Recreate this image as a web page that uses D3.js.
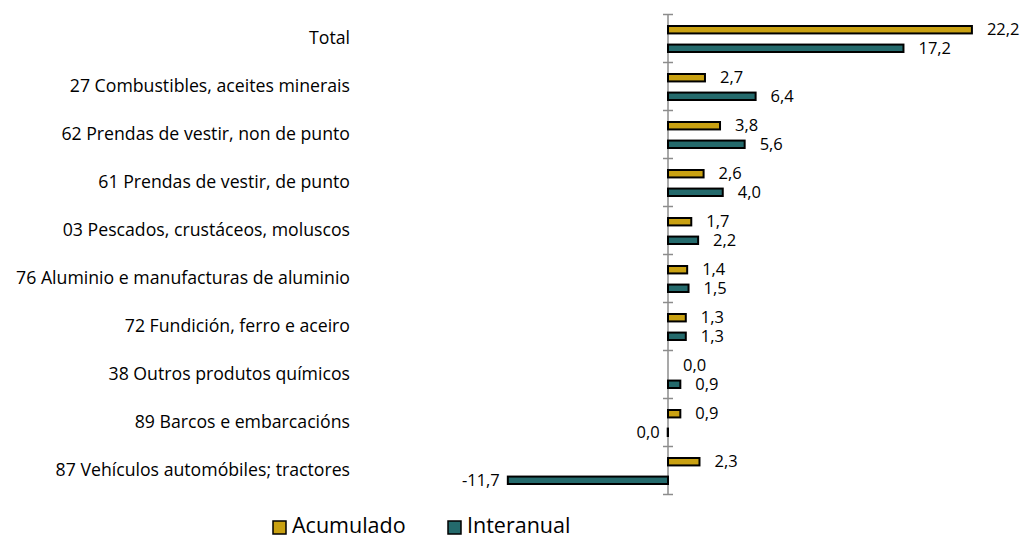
<html>
<head>
  <script src="https://unpkg.com/d3@7/dist/d3.min.js"></script>
  <style>
    body { margin: 0; background: #fff; }
    text { font-family: "Open Sans", sans-serif; fill: #000; }
  </style>
</head>
<body>
  <svg id="container" width="1025" height="540"></svg>
<script>
    const categories = [
      'Total',
      '27 Combustibles, aceites minerais',
      '62 Prendas de vestir, non de punto',
      '61 Prendas de vestir, de punto',
      '03 Pescados, crustáceos, moluscos',
      '76 Aluminio e manufacturas de aluminio',
      '72 Fundición, ferro e aceiro',
      '38 Outros produtos químicos',
      '89 Barcos e embarcacións',
      '87 Vehículos automóbiles; tractores'
    ]
    const acumulado = [22.2, 2.7, 3.8, 2.6, 1.7, 1.4, 1.3, 0.0, 0.9, 2.3]
    const interanual = [17.2, 6.4, 5.6, 4.0, 2.2, 1.5, 1.3, 0.9, -0.02, -11.7]
    const seriesNames = ['Acumulado', 'Interanual']
    const colors = ['#C9A112', '#246A6C']

    const svg = d3.select('#container');

    const plotTop = 14, plotBottom = 494;

    const xScale = d3.scaleLinear()
      .domain([-12, 23])
      .range([668 - 12 * 13.69, 668 + 23 * 13.69]);

    const yScale = d3.scaleBand()
      .domain(categories)
      .range([plotTop, plotBottom]);

    const inner = d3.scaleBand()
      .domain(seriesNames)
      .range([12, 38])
      .paddingInner(0.6);

    const fmt = d3.formatLocale({decimal: ',', thousands: '.', grouping: [3], currency: ['', '€'], minus: '-'}).format('.1f');

    // axis at zero with cross ticks at category boundaries
    const yLin = d3.scaleLinear().domain([0, categories.length]).range([plotTop, plotBottom]);
    const axis = svg.append('g')
      .attr('transform', `translate(${xScale(0)},0)`)
      .call(d3.axisLeft(yLin).ticks(categories.length).tickFormat(''));
    axis.select('.domain').attr('stroke', '#8c8c8c').attr('stroke-width', 1.5)
      .attr('d', `M0,${plotTop}V${plotBottom}`);
    axis.selectAll('.tick line').attr('stroke', '#8c8c8c').attr('stroke-width', 1.5)
      .attr('x1', -5).attr('x2', 5);

    // category labels
    svg.append('g').selectAll('text')
      .data(categories)
      .join('text')
      .attr('x', 350)
      .attr('y', (d) => yScale(d) + yScale.bandwidth() / 2)
      .attr('dy', '0.35em')
      .attr('text-anchor', 'end')
      .attr('font-size', 17.7)
      .text((d) => d);

    const series = [acumulado, interanual];
    series.forEach((vals, si) => {
      const g = svg.append('g');
      const rows = categories.map((c, i) => ({c, v: vals[i]}));
      g.selectAll('rect')
        .data(rows)
        .join('rect')
        .attr('x', (d) => xScale(Math.min(0, d.v)))
        .attr('y', (d) => yScale(d.c) + inner(seriesNames[si]))
        .attr('width', (d) => Math.abs(xScale(d.v) - xScale(0)))
        .attr('height', inner.bandwidth())
        .attr('fill', colors[si])
        .attr('stroke', '#000')
        .attr('stroke-width', 2);
      g.selectAll('text')
        .data(rows)
        .join('text')
        .attr('x', (d) => d.v < 0 ? xScale(d.v) - 8 : xScale(d.v) + 15)
        .attr('y', (d) => yScale(d.c) + inner(seriesNames[si]) + inner.bandwidth() / 2)
        .attr('dy', '0.35em')
        .attr('text-anchor', (d) => d.v < 0 ? 'end' : 'start')
        .attr('font-size', 16.5)
        .text((d) => fmt(d.v));
    });

    // legend
    const legend = svg.append('g').attr('transform', 'translate(273,527)');
    const items = legend.selectAll('g')
      .data(seriesNames)
      .join('g')
      .attr('transform', (d, i) => `translate(${i * 175},0)`);
    items.append('rect')
      .attr('x', 0).attr('y', -6)
      .attr('width', 13).attr('height', 13)
      .attr('fill', (d, i) => colors[i])
      .attr('stroke', '#000').attr('stroke-width', 1.5);
    items.append('text')
      .attr('x', 19).attr('y', 6)
      .attr('font-size', 21.5)
      .text((d) => d);
</script>
</body>
</html>
